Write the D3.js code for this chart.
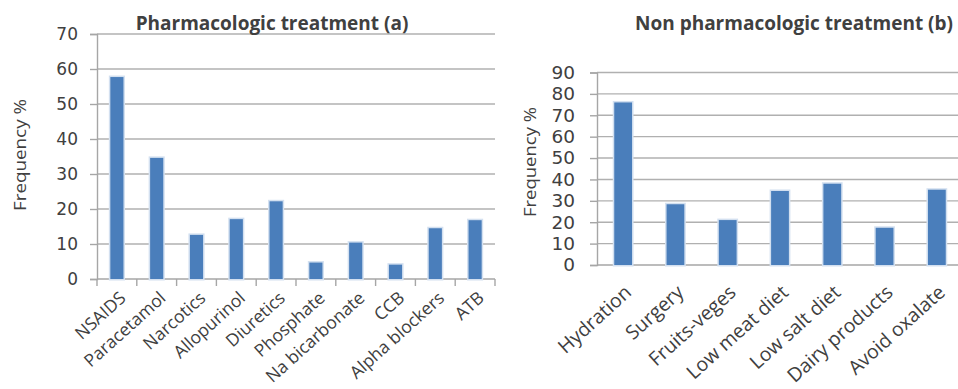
<!DOCTYPE html>
<html>
<head>
<meta charset="utf-8">
<script src="https://cdn.jsdelivr.net/npm/d3@7"></script>
<style>
  body { margin: 0; background: #fff; }
  svg { display: block; }
  text { font-family: "Open Sans", sans-serif; fill: #404040; }
</style>
</head>
<body>
<script>
const width = 958;
const height = 389;

// pharmacologic treatment (a)
const pharmaCategories = ['NSAIDS', 'Paracetamol', 'Narcotics', 'Allopurinol', 'Diuretics', 'Phosphate', 'Na bicarbonate', 'CCB', 'Alpha blockers', 'ATB'];
const pharmaValues = [57.7, 34.6, 12.6, 17.1, 22.2, 4.7, 10.4, 4.1, 14.5, 16.8];
const pharmaTicks = [0, 10, 20, 30, 40, 50, 60, 70];

// non pharmacologic treatment (b)
const nonPharmaCategories = ['Hydration', 'Surgery', 'Fruits-veges', 'Low meat diet', 'Low salt diet', 'Dairy products', 'Avoid oxalate'];
const nonPharmaValues = [76, 28.4, 21, 34.6, 38, 17.4, 35.2];
const nonPharmaTicks = [0, 10, 20, 30, 40, 50, 60, 70, 80, 90];

const svg = d3.select('body').append('svg').attr('width', width).attr('height', height);

function drawPanel(opt) {
    const g = svg.append('g');

    const x = d3.scaleBand()
        .domain(opt.categories)
        .range([opt.left, opt.right])
        .paddingInner(opt.pad)
        .paddingOuter(opt.pad / 2);

    const y = d3.scaleLinear()
        .domain([0, d3.max(opt.ticks)])
        .range([opt.bottom, opt.top]);

    // gridlines
    g.selectAll('.grid')
        .data(opt.ticks.slice(1))
        .enter().append('line')
        .attr('x1', opt.left).attr('x2', opt.right)
        .attr('y1', d => y(d)).attr('y2', d => y(d))
        .attr('stroke', '#b0b0b0').attr('stroke-width', 1.4);

    // y axis
    const yAxis = d3.axisLeft(y).tickValues(opt.ticks).tickSize(7).tickPadding(opt.tickPad);
    const ya = g.append('g').attr('transform', `translate(${opt.left},0)`).call(yAxis);
    ya.select('.domain').attr('stroke', '#a6a6a6').attr('stroke-width', 1.4);
    ya.selectAll('.tick line').attr('stroke', '#a6a6a6').attr('stroke-width', 1.4);
    ya.selectAll('.tick text')
        .style('font-family', '"DejaVu Sans", sans-serif')
        .style('font-size', opt.yFont + 'px')
        .attr('fill', '#555');

    // x axis line
    g.append('line')
        .attr('x1', opt.left).attr('x2', opt.right)
        .attr('y1', opt.bottom).attr('y2', opt.bottom)
        .attr('stroke', '#a6a6a6').attr('stroke-width', 1.4);

    if (opt.xTicks) {
        const step = x.step();
        g.selectAll('.xtick')
            .data(d3.range(opt.categories.length + 1))
            .enter().append('line')
            .attr('x1', i => opt.left + i * step).attr('x2', i => opt.left + i * step)
            .attr('y1', opt.bottom).attr('y2', opt.bottom + 7)
            .attr('stroke', '#a6a6a6').attr('stroke-width', 1.4);
    }

    // bars
    g.selectAll('.bar')
        .data(opt.values)
        .enter().append('rect')
        .attr('x', (d, i) => x(opt.categories[i]))
        .attr('y', d => y(d))
        .attr('width', x.bandwidth())
        .attr('height', d => opt.bottom - y(d))
        .attr('fill', '#4a7ebb')
        .attr('stroke', '#d3e0f0')
        .attr('stroke-width', 3)
        .style('paint-order', 'stroke');

    // category labels
    g.selectAll('.xlabel')
        .data(opt.categories)
        .enter().append('text')
        .attr('transform', d => `translate(${x(d) + x.bandwidth() / 2 + opt.labelDx},${opt.bottom + opt.labelGap}) rotate(-42)`)
        .attr('text-anchor', 'end')
        .attr('dy', '0.35em')
        .style('font-size', opt.xFont + 'px')
        .text(d => d);

    // title
    g.append('text')
        .attr('x', opt.titleX).attr('y', 30)
        .attr('text-anchor', 'middle')
        .style('font-weight', 'bold')
        .style('font-size', '19px')
        .attr('fill', '#262626')
        .text(opt.title);

    // y axis title
    g.append('text')
        .attr('transform', `translate(${opt.yTitleX},${opt.yTitleY}) rotate(-90)`)
        .attr('text-anchor', 'middle')
        .attr('textLength', opt.yTitleLen)
        .attr('lengthAdjust', 'spacingAndGlyphs')
        .style('font-size', '17px')
        .text('Frequency %');
}

drawPanel({
    categories: pharmaCategories, values: pharmaValues, ticks: pharmaTicks,
    left: 97, right: 495, top: 34, bottom: 279, pad: 0.67,
    xTicks: true, yFont: 17, tickPad: 12, xFont: 17.5, labelGap: 16, labelDx: 6,
    title: 'Pharmacologic treatment (a)', titleX: 272,
    yTitleX: 26, yTitleY: 155, yTitleLen: 112
});

drawPanel({
    categories: nonPharmaCategories, values: nonPharmaValues, ticks: nonPharmaTicks,
    left: 597, right: 963, top: 72.5, bottom: 265, pad: 0.66,
    xTicks: false, yFont: 18.5, tickPad: 15, xFont: 19.5, labelGap: 24, labelDx: 5,
    title: 'Non pharmacologic treatment (b)', titleX: 794,
    yTitleX: 536, yTitleY: 162, yTitleLen: 110
});
</script>
</body>
</html>
